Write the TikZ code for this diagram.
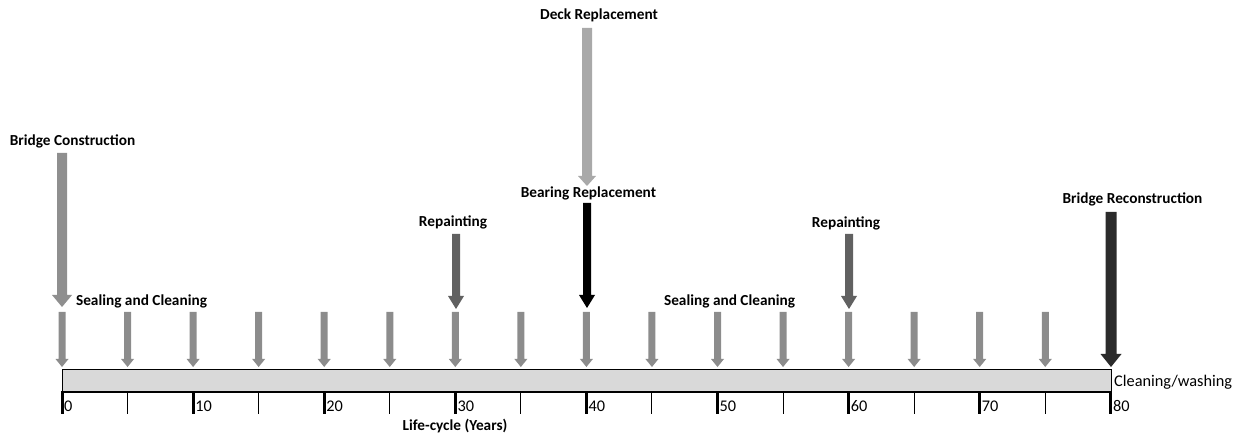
\documentclass[tikz,border=0pt]{standalone}
\usepackage{fontspec}
\setmainfont{Carlito}
\definecolor{smallgray}{HTML}{8C8C8C}
\definecolor{constrgray}{HTML}{8F8F8F}
\definecolor{paintgray}{HTML}{616161}
\definecolor{deckgray}{HTML}{A9A9A9}
\definecolor{recongray}{HTML}{2B2B2B}
\definecolor{bargray}{HTML}{D9D9D9}
\newcommand\blockarr[7]{%
  \fill[#7] ({#1-#4/2},#2) -- ({#1+#4/2},#2) -- ({#1+#4/2},{#3-#6}) -- ({#1+#5/2},{#3-#6})
    -- (#1,#3) -- ({#1-#5/2},{#3-#6}) -- ({#1-#4/2},{#3-#6}) -- cycle;}
\tikzset{
  evlabel/.style={font=\fontsize{15.3}{17}\selectfont\bfseries, inner sep=0pt, anchor=base},
  axlabel/.style={font=\fontsize{16.3}{18}\selectfont, inner sep=0pt, anchor=base west},
}
\begin{document}
\begin{tikzpicture}[x=1pt,y=-1pt]
\useasboundingbox (0,0) rectangle (1239,435);
% bar
\draw[fill=bargray, line width=1pt] (62,369) rectangle (1111,391);
\draw[line width=2pt] (61,392) -- (1112,392);
% ticks
\foreach \k in {0,...,8} {\draw[line width=3pt] ({62+131.1*\k},392) -- ({62+131.1*\k},414);}
\foreach \k in {0,...,7} {\draw[line width=1pt] ({127.55+131.1*\k},392) -- ({127.55+131.1*\k},414);}
\foreach \k/\lab in {0/0,1/10,2/20,3/30,4/40,5/50,6/60,7/70,8/80} {
  \node[axlabel] (n\lab) at ({64+131.1*\k},411) {\lab};}
\node[axlabel] (clean) at (1114,386) {Cleaning/washing};
\node[evlabel] (axis) at (455,430) {Life-cycle (Years)};
% small arrows
\foreach \k in {0,...,15} {\blockarr{62+65.55*\k}{312}{367}{7}{13}{8}{smallgray}}
% major events
\blockarr{62}{153}{307}{10}{20}{12}{constrgray}
\blockarr{456}{234}{309}{8}{16}{13}{paintgray}
\blockarr{849}{234}{309}{8}{16}{13}{paintgray}
\blockarr{587}{28}{186}{10}{18}{10}{deckgray}
\blockarr{587}{203}{308}{8}{16}{13}{black}
\blockarr{1111}{212}{367}{11}{21}{13}{recongray}
% labels
\node[evlabel] (lconstr) at (72.5,146) {Bridge Construction};
\node[evlabel] (lseal1) at (141.5,306) {Sealing and Cleaning};
\node[evlabel] (lpaint1) at (453,227) {Repainting};
\node[evlabel] (lbear) at (588.5,198) {Bearing Replacement};
\node[evlabel] (ldeck) at (599,20) {Deck Replacement};
\node[evlabel] (lseal2) at (729.5,306) {Sealing and Cleaning};
\node[evlabel] (lpaint2) at (846,228) {Repainting};
\node[evlabel] (lrecon) at (1132.5,204) {Bridge Reconstruction};
\end{tikzpicture}
\end{document}
